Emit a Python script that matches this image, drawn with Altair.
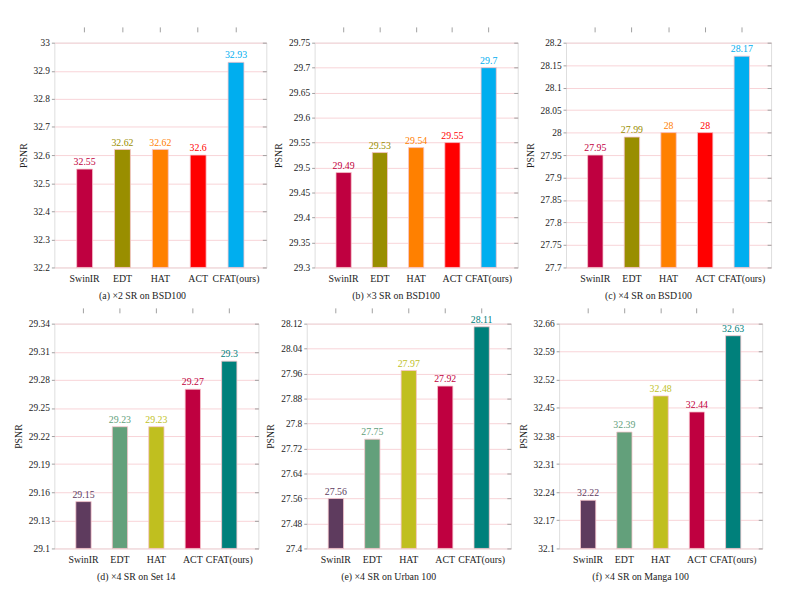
import altair as alt
import pandas as pd

models = ["SwinIR", "EDT", "HAT", "ACT", "CFAT(ours)"]

captions = [
    "(a) ×2 SR on BSD100",
    "(b) ×3 SR on BSD100",
    "(c) ×4 SR on BSD100",
    "(d) ×4 SR on Set 14",
    "(e) ×4 SR on Urban 100",
    "(f) ×4 SR on Manga 100",
]

psnr_a = [32.55, 32.62, 32.62, 32.60, 32.93]
psnr_b = [29.49, 29.53, 29.54, 29.55, 29.70]
psnr_c = [27.95, 27.99, 28.00, 28.00, 28.17]
psnr_d = [29.15, 29.23, 29.23, 29.27, 29.30]
psnr_e = [27.56, 27.75, 27.97, 27.92, 28.11]
psnr_f = [32.22, 32.39, 32.48, 32.44, 32.63]

ticks_a = [32.2, 32.3, 32.4, 32.5, 32.6, 32.7, 32.8, 32.9, 33.0]
ticks_b = [29.3, 29.35, 29.4, 29.45, 29.5, 29.55, 29.6, 29.65, 29.7, 29.75]
ticks_c = [27.7, 27.75, 27.8, 27.85, 27.9, 27.95, 28.0, 28.05, 28.1, 28.15, 28.2]
ticks_d = [29.1, 29.13, 29.16, 29.19, 29.22, 29.25, 29.28, 29.31, 29.34]
ticks_e = [27.4, 27.48, 27.56, 27.64, 27.72, 27.8, 27.88, 27.96, 28.04, 28.12]
ticks_f = [32.1, 32.17, 32.24, 32.31, 32.38, 32.45, 32.52, 32.59, 32.66]

colors_top = ["#BF0040", "#998E00", "#FF8000", "#FF0000", "#00AEEF"]
colors_bottom = ["#5E3B5E", "#63A07B", "#C0BF1F", "#BF0040", "#00807B"]

FONT = "Liberation Serif"
GRID = "#f8d3d7"
TICK = "#a0a0a0"


def panel(values, ticks, colors, caption, width):
    df = pd.DataFrame({"model": models, "psnr": values, "base": ticks[0],
                       "col": colors})
    xscale = alt.Scale(domain=models, paddingInner=0.58, paddingOuter=0.59)
    yscale = alt.Scale(domain=[ticks[0], ticks[-1]], nice=False, zero=False,
                       clamp=True)

    bars = alt.Chart(df).mark_bar(stroke="#f7c4cc", strokeWidth=0.8).encode(
        x=alt.X("model:N", sort=models, scale=xscale, title=None,
                axis=alt.Axis(orient="bottom", ticks=False, domain=False,
                              labelAngle=0, labelPadding=6, labelFont=FONT,
                              labelFontSize=10, labelColor="#222")),
        y=alt.Y("psnr:Q", scale=yscale, title="PSNR",
                axis=alt.Axis(orient="left", values=ticks, format=".6~g",
                              ticks=True, tickSize=3, tickColor=TICK,
                              domain=False, grid=True,
                              gridColor=GRID, gridWidth=1, labelPadding=2,
                              labelFont=FONT, labelFontSize=9.5,
                              labelColor="#222", titleFont=FONT,
                              titleFontSize=10, titleFontWeight="normal",
                              titleColor="#222", titlePadding=5)),
        y2=alt.Y2("base:Q"),
        color=alt.Color("col:N", scale=None, legend=None),
    )

    text = alt.Chart(df).mark_text(baseline="bottom", dy=-2, font=FONT,
                                   fontSize=10).encode(
        x=alt.X("model:N", sort=models, scale=xscale, axis=None),
        y=alt.Y("psnr:Q", scale=yscale, axis=None),
        text=alt.Text("psnr:Q", format=".4~g"),
        color=alt.Color("col:N", scale=None, legend=None),
    )

    ghost = alt.Chart(df).mark_point(opacity=0).encode(
        x=alt.X("model:N", sort=models, scale=xscale, title=None,
                axis=alt.Axis(orient="top", labels=False, domain=False,
                              ticks=True, tickSize=5, tickColor=TICK,
                              offset=11)),
        y=alt.Y("psnr:Q", scale=yscale, title=None,
                axis=alt.Axis(orient="right", values=ticks, labels=False,
                              domain=False, grid=False, ticks=True,
                              tickSize=4, tickColor=TICK, offset=-4)),
    )

    return alt.layer(bars, text, ghost).resolve_axis(
        x="independent", y="independent"
    ).properties(
        width=width, height=228,
        title=alt.TitleParams(caption, orient="bottom", anchor="middle",
                              frame="bounds", font=FONT, fontSize=10,
                              fontWeight="normal", color="#222", offset=8),
    )


row1 = alt.hconcat(
    panel(psnr_a, ticks_a, colors_top, captions[0], 215),
    panel(psnr_b, ticks_b, colors_top, captions[1], 206),
    panel(psnr_c, ticks_c, colors_top, captions[2], 208),
    spacing=6,
)
row2 = alt.hconcat(
    panel(psnr_d, ticks_d, colors_bottom, captions[3], 207),
    panel(psnr_e, ticks_e, colors_bottom, captions[4], 207),
    panel(psnr_f, ticks_f, colors_bottom, captions[5], 206),
    spacing=6,
)

chart = alt.vconcat(row1, row2, spacing=5).properties(
    padding={"left": 5, "top": 14, "right": 5, "bottom": 5}
).configure_view(stroke=None).configure(background="white")

chart.save("out.html", embed_options={"renderer": "svg", "actions": False})
